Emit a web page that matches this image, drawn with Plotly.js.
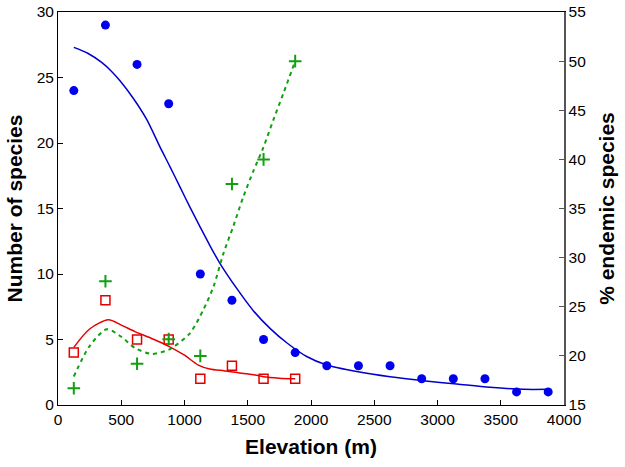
<!DOCTYPE html>
<html>
<head>
<meta charset="utf-8">
<script src="https://cdn.plot.ly/plotly-3.0.1.min.js"></script>
<style>html,body{margin:0;padding:0;background:#fff;}#chart{width:625px;height:467px;}</style>
</head>
<body>
<div id="chart"></div>
<script>
// Observed data
const elevAll = [125, 375, 625, 875, 1125, 1375, 1625, 1875, 2125, 2375, 2625, 2875, 3125, 3375, 3625, 3875];
const speciesAll = [24, 29, 26, 23, 10, 8, 5, 4, 3, 3, 3, 2, 2, 2, 1, 1];
const elevLow = [125, 375, 625, 875, 1125, 1375, 1625, 1875];
const endemicCount = [4, 8, 5, 5, 2, 3, 2, 2];
const endemicPct = [16.7, 27.6, 19.2, 21.7, 20.0, 37.5, 40.0, 50.0];

// Fitted curves
const fitAllX = [125, 235, 345, 420, 490, 596, 701, 806, 885, 964, 1043, 1123, 1202, 1281, 1413, 1544, 1676, 1808, 1966, 2124, 2361, 2625, 2888, 3152, 3415, 3678, 3875];
const fitAllY = [27.3, 26.85, 26.15, 25.5, 24.75, 23.4, 21.8, 19.7, 18.2, 16.65, 15.1, 13.6, 12.15, 10.8, 8.9, 7.2, 5.85, 4.75, 3.7, 3.05, 2.55, 2.15, 1.85, 1.6, 1.35, 1.2, 1.2];
const fitEndX = [125, 250, 398, 500, 609, 750, 872, 1000, 1109, 1200, 1320, 1557, 1623, 1750, 1875];
const fitEndY = [4.4, 5.8, 6.5, 6.1, 5.6, 5.04, 4.5, 3.8, 3.05, 2.75, 2.6, 2.29, 2.16, 2.05, 2.0];
const fitPctX = [125, 250, 385, 500, 609, 740, 872, 912, 1043, 1149, 1228, 1307, 1386, 1465, 1544, 1623, 1702, 1781, 1875];
const fitPctY = [17.9, 21.0, 22.7, 21.95, 20.8, 20.2, 20.6, 20.9, 22.3, 24.7, 27.0, 30.4, 33.2, 36.2, 38.8, 41.2, 44.0, 46.7, 50.0];

const traces = [
  {x: fitAllX, y: fitAllY, mode: 'lines', line: {color: '#0000cc', width: 1.5, shape: 'spline', smoothing: 0.8}, hoverinfo: 'skip'},
  {x: fitEndX, y: fitEndY, mode: 'lines', line: {color: '#e60000', width: 1.5, shape: 'spline', smoothing: 0.8}, hoverinfo: 'skip'},
  {x: fitPctX, y: fitPctY, yaxis: 'y2', mode: 'lines', line: {color: '#10a010', width: 2, dash: '4px,4px', shape: 'spline', smoothing: 0.8}, hoverinfo: 'skip'},
  {x: elevAll, y: speciesAll, mode: 'markers', marker: {symbol: 'circle', size: 9, color: '#0000ee'}},
  {x: elevLow, y: endemicCount, mode: 'markers', marker: {symbol: 'square-open', size: 9, color: '#e00000', line: {width: 1.5, color: '#e00000'}}},
  {x: elevLow, y: endemicPct, yaxis: 'y2', mode: 'markers', marker: {symbol: 'cross-thin-open', size: 9, color: '#10a010', line: {width: 2, color: '#10a010'}}}
];

const font = {family: '"Liberation Sans", Arial, sans-serif', color: '#000'};
const layout = {
  width: 625, height: 467,
  margin: {l: 58, r: 61, t: 12, b: 62},
  paper_bgcolor: '#fff', plot_bgcolor: '#fff',
  showlegend: false,
  font: Object.assign({size: 15}, font),
  xaxis: {
    range: [0, 4000], tickvals: [0, 500, 1000, 1500, 2000, 2500, 3000, 3500, 4000],
    ticks: 'inside', ticklen: 5, tickcolor: '#000', showgrid: false, zeroline: false,
    showline: true, linecolor: '#000', linewidth: 1, mirror: true,
    tickfont: Object.assign({size: 15.5}, font),
    title: {text: '<b>Elevation (m)</b>', font: Object.assign({size: 21}, font), standoff: 12}
  },
  yaxis: {
    range: [0, 30], tickvals: [0, 5, 10, 15, 20, 25, 30],
    ticks: 'inside', ticklen: 5, tickcolor: '#000', showgrid: false, zeroline: false,
    showline: true, linecolor: '#000', linewidth: 1,
    tickfont: Object.assign({size: 15.5}, font),
    title: {text: '<b>Number of species</b>', font: Object.assign({size: 21}, font), standoff: 8}
  },
  yaxis2: {
    overlaying: 'y', side: 'right', range: [15, 55], tickvals: [15, 20, 25, 30, 35, 40, 45, 50, 55],
    ticks: 'inside', ticklen: 5, tickcolor: '#555', showgrid: false, zeroline: false,
    showline: true, linecolor: '#555', linewidth: 1.5,
    tickfont: Object.assign({size: 15.5}, font),
    title: {text: '<b>% endemic species</b>', font: Object.assign({size: 21}, font), standoff: 14}
  }
};

Plotly.newPlot('chart', traces, layout, {staticPlot: true, displayModeBar: false});
</script>
</body>
</html>
